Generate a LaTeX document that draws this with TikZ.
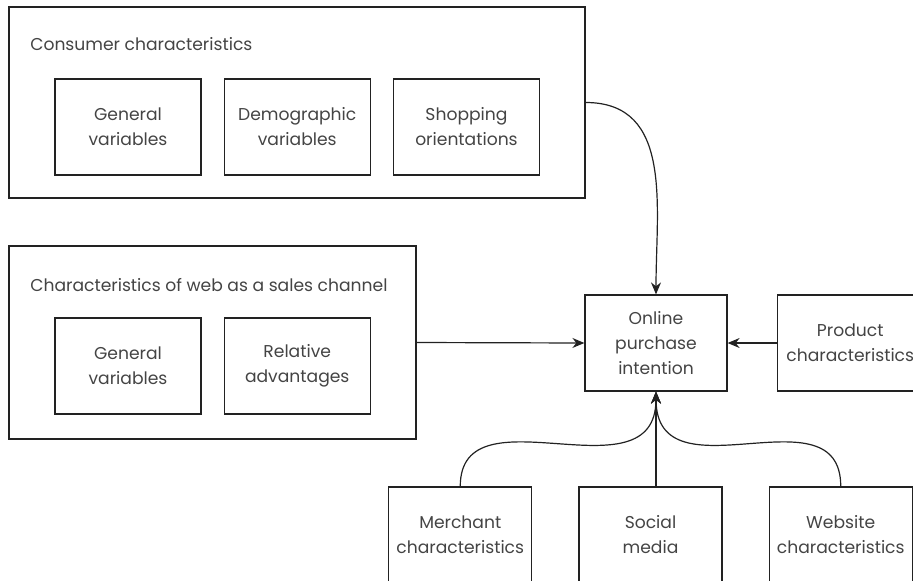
\documentclass[tikz,border=0pt]{standalone}
\usepackage{fontspec}
\setmainfont{Poppins}
\usepackage{tikz}
\usetikzlibrary{arrows.meta, positioning, shapes}
\definecolor{ink}{HTML}{222222}
\definecolor{txt}{HTML}{444444}
\tikzstyle{outer} = [rectangle, draw=ink, line width=0.85pt]
\tikzstyle{box} = [rectangle, draw=ink, line width=0.85pt, align=center, text=txt, minimum height=2.4cm, minimum width=3.65cm]
\tikzstyle{box2} = [box, minimum width=3.575cm]
\tikzstyle{title} = [anchor=west, text=txt, inner sep=0pt]
\tikzstyle{arrow} = [draw=ink, line width=0.85pt, -{Stealth[length=3mm, width=2.5mm]}]

\begin{document}
\begin{tikzpicture}[x=0.025cm, y=-0.025cm, node distance = 0.55cm,
  every node/.style={font=\fontsize{12.2}{17.8}\selectfont}]
\useasboundingbox (0,0) rectangle (913,580);
\clip (0,0) rectangle (913,580);

% consumer characteristics
\node(CC)[outer, minimum width=14.4cm, minimum height=4.775cm] at (297,102.5) {};
\node(CCt)[title] at (30,44) {Consumer characteristics};
\node(GV1)[box] at (128,127) {General\\variables};
\node(DV)[box, right = of GV1] {Demographic\\variables};
\node(SO)[box, right = of DV] {Shopping\\orientations};

% web as a sales channel
\node(WS)[outer, minimum width=10.175cm, minimum height=4.825cm] at (212.5,342.5) {};
\node(WSt)[title] at (30,285) {Characteristics of web as a sales channel};
\node(GV2)[box] at (128,366) {General\\variables};
\node(RA)[box, right = of GV2] {Relative\\advantages};

% intention and the other factors
\node(OPI)[box, minimum width=3.55cm] at (656,343) {Online\\purchase\\intention};
\node(PC)[box, right = 1.225cm of OPI] {Product\\characteristics};
\node(SM)[box2] at (650.5,535) {Social\\media};
\node(MC)[box2, left = 1.15cm of SM] {Merchant\\characteristics};
\node(WC)[box2, right = 1.15cm of SM] {Website\\characteristics};

\draw [arrow] (CC.east) to[out=0, in=90, looseness=1.1] (OPI.north);
\draw [arrow] (WS.east) -- (OPI.west);
\draw [arrow] (PC.west) -- (OPI.east);
\draw [arrow] (MC.north) .. controls +(0,-100) and +(0,110) .. (OPI.south);
\draw [arrow] (OPI.south |- SM.north) -- (OPI.south);
\draw [arrow] (WC.north) .. controls +(0,-100) and +(0,110) .. (OPI.south);

\end{tikzpicture}
\end{document}
